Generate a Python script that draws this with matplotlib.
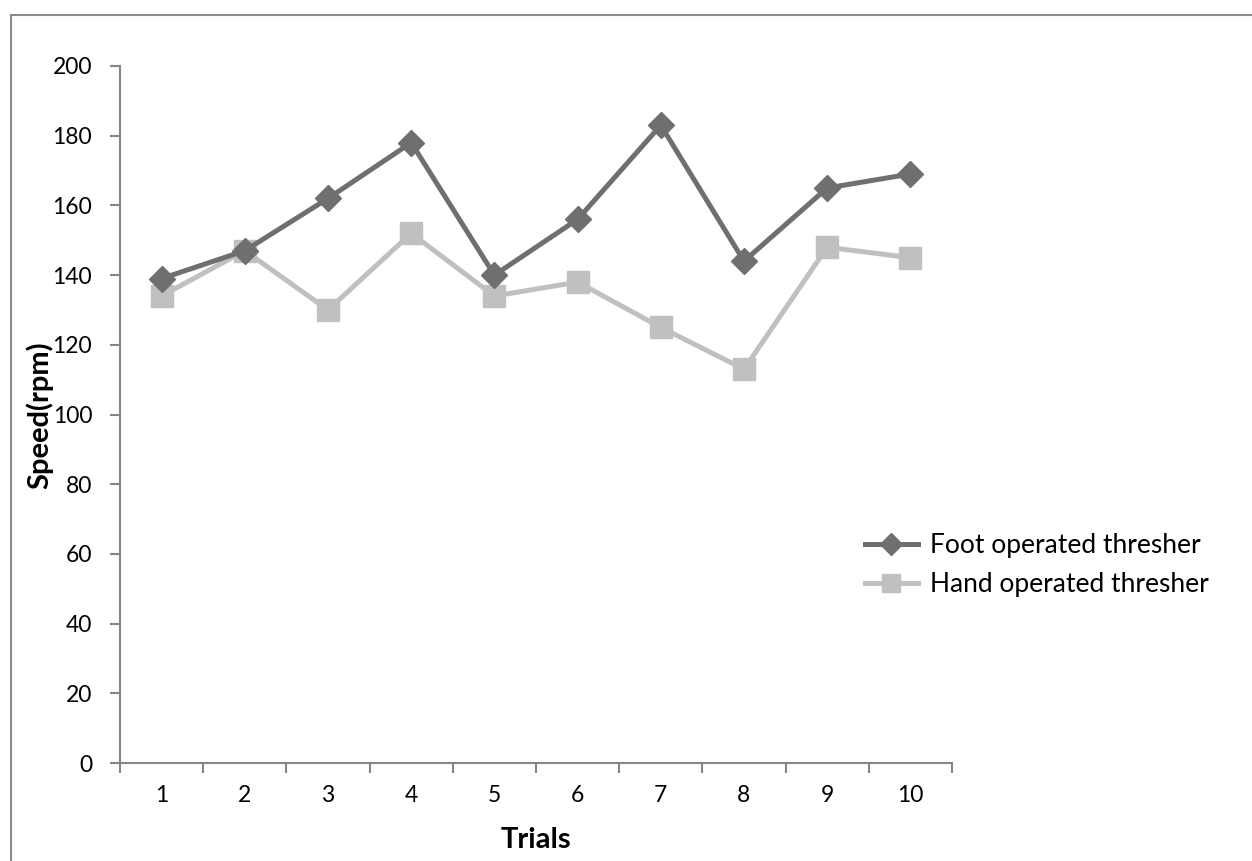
import matplotlib
matplotlib.use("Agg")
import matplotlib.pyplot as plt
from matplotlib.lines import Line2D
import numpy as np

trials = ["1", "2", "3", "4", "5", "6", "7", "8", "9", "10"]
foot_speed = [139, 147, 162, 178, 140, 156, 183, 144, 165, 169]
hand_speed = [134, 147, 130, 152, 134, 138, 125, 113, 148, 145]
y_ticks = [0, 20, 40, 60, 80, 100, 120, 140, 160, 180, 200]

plt.rcParams['font.family'] = ['Lato', 'DejaVu Sans']

fig = plt.figure(figsize=(12.52, 8.61), dpi=100)
ax = fig.add_axes([120/1252, 1-763/861, (952-120)/1252, (763-66)/861])

x = np.arange(len(trials))
ax.plot(x, foot_speed, color='#6f6f6f', lw=3.6, marker='D', markersize=13,
        label='Foot operated thresher', zorder=3)
ax.plot(x, hand_speed, color='#c0c0c0', lw=3.6, marker='s', markersize=16,
        label='Hand operated thresher', zorder=2)

ax.set_xlim(-0.5, len(trials) - 0.5)
ax.set_ylim(0, 200)
ax.set_yticks(y_ticks)
ax.set_yticklabels([str(v) for v in y_ticks], fontsize=16.5)
ax.set_xticks(x)
ax.set_xticklabels(trials, fontsize=16.5)
ax.set_xticks(np.arange(-0.5, len(trials), 1.0), minor=True)
ax.tick_params(axis='x', which='major', length=0, pad=16)
ax.tick_params(axis='x', which='minor', length=7, color='#868686', width=1.5)
ax.tick_params(axis='y', length=7, color='#868686', width=1.5, pad=13)

for s in ['top', 'right']:
    ax.spines[s].set_visible(False)
for s in ['left', 'bottom']:
    ax.spines[s].set_color('#868686')
    ax.spines[s].set_linewidth(1.5)

fig.text(536/1252, 1-840/861, 'Trials', fontsize=21, fontweight='bold',
         ha='center', va='center')
fig.text(40/1252, 1-415/861, 'Speed(rpm)', rotation=90, fontsize=21,
         fontweight='bold', ha='center', va='center')

leg = ax.legend(loc='center left', bbox_to_anchor=(865/1252, 1-565/861),
                bbox_transform=fig.transFigure, frameon=False,
                fontsize=19, handlelength=2.0, handletextpad=0.45,
                labelspacing=0.55, borderaxespad=0, borderpad=0,
                markerscale=0.85)

# outer frame
fig.add_artist(Line2D([11/1252, 1.0], [1-15/861, 1-15/861], color='#8c8c8c',
                      lw=1.5, transform=fig.transFigure))
fig.add_artist(Line2D([11/1252, 11/1252], [0, 1-15/861], color='#8c8c8c',
                      lw=1.5, transform=fig.transFigure))

fig.savefig('out.png', dpi=100)
